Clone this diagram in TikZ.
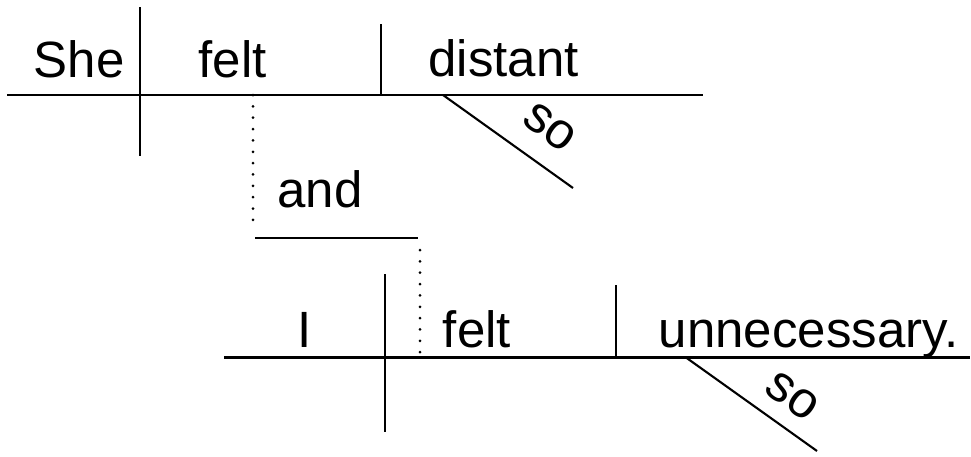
\documentclass[tikz,border=0pt]{standalone}
\usepackage{fontspec}
\setmainfont{Liberation Sans}
\begin{document}
\begin{tikzpicture}[x=1pt,y=-1pt,
  rule/.style={line width=2.5pt},
  slant/.style={line width=2.1pt},
  dotrule/.style={line width=3pt,line cap=round,dash pattern=on 0pt off 11.35pt},
  word/.style={anchor=base,inner sep=0pt,font=\fontsize{51}{60}\selectfont},
  modword/.style={sloped,inner sep=0pt,font=\fontsize{51}{60}\selectfont}]
\useasboundingbox (0,0) rectangle (971,456);

% first clause: She felt distant (so)
\coordinate (b1l) at (7,95);
\coordinate (b1r) at (703,95);
\coordinate (v1t) at (140,7);
\coordinate (v1b) at (140,156);
\coordinate (v2t) at (381,24);
\coordinate (v2b) at (381,95);
\coordinate (m1s) at (443,95);
\coordinate (m1e) at (573,188);
\draw[rule] (b1l) -- (b1r);
\draw[rule] (v1t) -- (v1b);
\draw[rule] (v2t) -- (v2b);
\draw[slant] (m1s) -- (m1e) node[modword,pos=0.66,above=21pt] (so1) {so};
\node[word] (she) at (79,77) {She};
\node[word] (felt1) at (232.5,77) {felt};
\node[word] (distant) at (503.5,76) {distant};

% conjunction: and
\coordinate (d1t) at (253,95);
\coordinate (d1b) at (253,231);
\coordinate (cl) at (255,238);
\coordinate (cr) at (418,238);
\coordinate (d2t) at (420,250);
\coordinate (d2b) at (420,353);
\draw[dotrule] (d1t) -- (d1b);
\draw[rule] (cl) -- (cr);
\draw[dotrule] (d2t) -- (d2b);
\node[word] (and) at (320,207) {and};

% second clause: I felt unnecessary (so)
\coordinate (b2l) at (224,357.5);
\coordinate (b2r) at (970,357.5);
\coordinate (v3t) at (385,274);
\coordinate (v3b) at (385,432);
\coordinate (v4t) at (616,285);
\coordinate (v4b) at (616,357.5);
\coordinate (m2s) at (686,357.5);
\coordinate (m2e) at (817,451);
\draw[rule] (b2l) -- (b2r);
\draw[rule] (v3t) -- (v3b);
\draw[rule] (v4t) -- (v4b);
\draw[slant] (m2s) -- (m2e) node[modword,pos=0.68,above=15pt] (so2) {so};
\node[word] (i) at (304.5,347) {I};
\node[word] (felt2) at (477,347) {felt};
\node[word] (unnec) at (808.5,347) {unnecessary.};
\end{tikzpicture}
\end{document}
